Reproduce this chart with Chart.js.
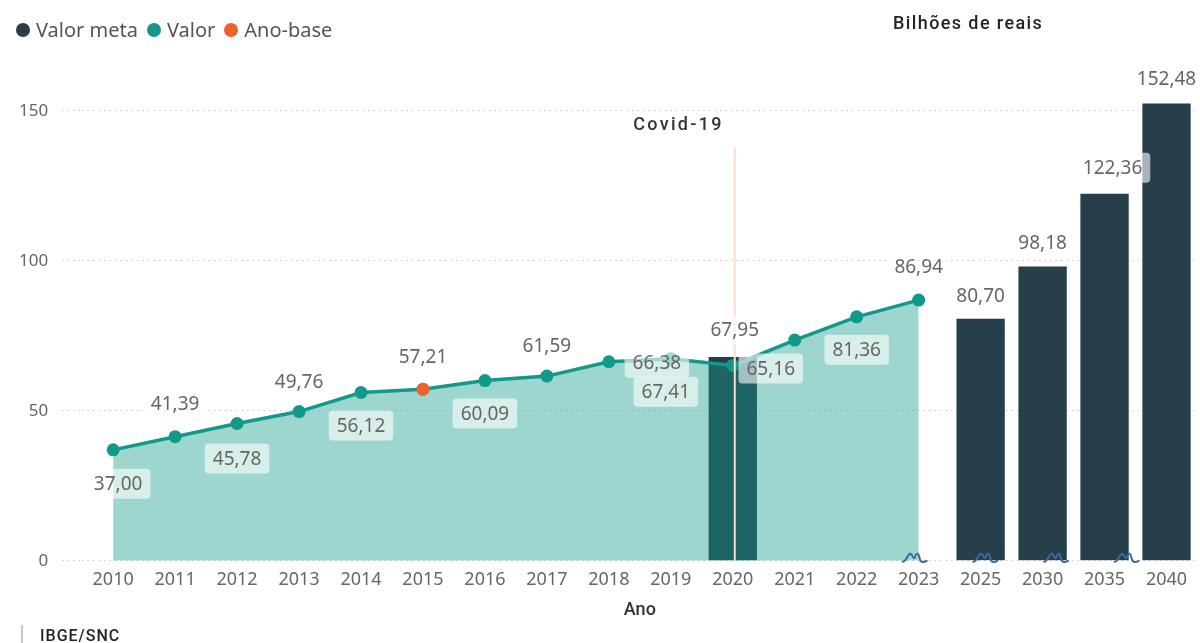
<!DOCTYPE html>
<html lang="pt-BR">
<head>
<meta charset="utf-8">
<title>Valor meta e valor - bilhões de reais</title>
<script src="https://cdn.jsdelivr.net/npm/chart.js@4.4.1/dist/chart.umd.min.js"></script>
<style>
  html, body { margin: 0; padding: 0; background: #fff; }
  #wrap { position: relative; width: 1200px; height: 643px; overflow: hidden; font-family: "Noto Sans", sans-serif; }
  #chart { position: absolute; left: 0; top: 0; }
  .legend { position: absolute; left: 16px; top: 16px; display: flex; align-items: center; font-size: 20px; color: #555; }
  .legend .item { display: flex; align-items: center; margin-right: 9px; }
  .legend .dot { width: 14px; height: 14px; border-radius: 50%; display: inline-block; margin-right: 6px; }
  .unit { position: absolute; left: 893px; top: 12px; font: 500 18px Roboto, sans-serif; letter-spacing: 1.4px; color: #252423; }
  .source { position: absolute; left: 21px; top: 625px; font: 500 16px Roboto, sans-serif; letter-spacing: 1px; color: #252423; padding-left: 17px; border-left: 2px solid #c8c6c4; line-height: 22px; }
</style>
</head>
<body>
<div id="wrap">
  <!-- a few px wider than the page: the x axis keeps a small right gutter we don't want -->
  <canvas id="chart" width="1204" height="643"></canvas>
  <div class="legend">
    <div class="item"><span class="dot" style="background:#263f4b"></span>Valor meta</div>
    <div class="item"><span class="dot" style="background:#12998a"></span>Valor</div>
    <div class="item"><span class="dot" style="background:#f0622b"></span>Ano-base</div>
  </div>
  <div class="unit">Bilhões de reais</div>
  <div class="source">IBGE/SNC</div>
</div>
<script>
const categories = ['2010', '2011', '2012', '2013', '2014', '2015', '2016', '2017', '2018',
  '2019', '2020', '2021', '2022', '2023', '2025', '2030', '2035', '2040'];
const valorMeta = [null, null, null, null, null, null, null, null, null,
  null, 67.95, null, null, null, 80.70, 98.18, 122.36, 152.48];
const valor = [37.00, 41.39, 45.78, 49.76, 56.12, 57.21, 60.09, 61.59, 66.38,
  67.41, 65.16, 73.6, 81.36, 86.94, null, null, null, null];
const anoBase = [null, null, null, null, null, 57.21, null, null, null,
  null, null, null, null, null, null, null, null, null];
const yTicks = [0, 50, 100, 150];
const covidYear = '2020';

// where each data label sits relative to its point (dx, dy); null = hidden
const valorLabelOffset = [[5, 34], [0, -33], [0, 35], [0, -30], [0, 33], [0, -33], [0, 33], [0, -31], [48, 1],
  [-5, 33], [38, 3], null, [0, 33], [0, -33], null, null, null, null];
const metaLabelOffset = [null, null, null, null, null, null, null, null, null,
  null, [2, -27], null, null, null, [0, -23], [0, -24], [8, -26], [0, -25]];

const TEAL = '#12998a';
const DARK = '#263f4b';
const ORANGE = '#f0622b';

function fmt(v) {
  return v.toFixed(2).replace('.', ',');
}

function drawLabel(ctx, text, x, y) {
  ctx.font = '19px "Noto Sans"';
  const w = ctx.measureText(text).width + 16;
  const h = 30;
  ctx.fillStyle = 'rgba(255,255,255,0.6)';
  ctx.beginPath();
  ctx.roundRect(x - w / 2, y - h / 2, w, h, 4);
  ctx.fill();
  ctx.fillStyle = '#666';
  ctx.textAlign = 'center';
  ctx.textBaseline = 'middle';
  ctx.fillText(text, x, y + 1);
}

function drawSquiggle(ctx, x, y) {
  ctx.save();
  ctx.strokeStyle = '#3d6a9e';
  ctx.lineWidth = 2;
  ctx.lineJoin = 'round';
  ctx.lineCap = 'round';
  ctx.beginPath();
  ctx.moveTo(x - 12, y);
  ctx.bezierCurveTo(x - 8, y, x - 7, y - 9, x - 4, y - 8);
  ctx.bezierCurveTo(x - 2, y - 7, x - 2, y - 3, x, y - 4);
  ctx.bezierCurveTo(x + 2, y - 10, x + 4, y - 9, x + 5, y - 3);
  ctx.bezierCurveTo(x + 6, y + 1, x + 9, y + 1, x + 12, y - 1);
  ctx.stroke();
  ctx.restore();
}

const overlayPlugin = {
  id: 'overlay',
  afterDatasetsDraw(chart) {
    const ctx = chart.ctx;
    const xs = chart.scales.x;
    const ys = chart.scales.y;
    const area = chart.chartArea;

    // covid marker
    const cx = xs.getPixelForValue(categories.indexOf(covidYear)) + 2;
    const top = ys.getPixelForValue(138);
    ctx.save();
    ctx.strokeStyle = '#fbdfca';
    ctx.lineWidth = 2;
    ctx.beginPath();
    ctx.moveTo(cx, top);
    ctx.lineTo(cx, area.bottom);
    ctx.stroke();
    ctx.font = '500 18px Roboto';
    ctx.letterSpacing = '2.3px';
    ctx.fillStyle = '#333';
    ctx.textAlign = 'right';
    ctx.textBaseline = 'middle';
    ctx.fillText('Covid-19', cx - 11, top - 21);
    ctx.restore();

    // wavy marks on the baseline
    [13, 14, 15, 16].forEach((i, k) => {
      drawSquiggle(ctx, xs.getPixelForValue(i) - 4 + 8.7 * k, area.bottom + 1);
    });

    // data labels
    ctx.save();
    valor.forEach((v, i) => {
      const off = valorLabelOffset[i];
      if (v === null || !off) return;
      drawLabel(ctx, fmt(v), xs.getPixelForValue(i) + off[0], ys.getPixelForValue(v) + off[1]);
    });
    valorMeta.forEach((v, i) => {
      const off = metaLabelOffset[i];
      if (v === null || !off) return;
      drawLabel(ctx, fmt(v), xs.getPixelForValue(i) + off[0], ys.getPixelForValue(v) + off[1]);
    });
    ctx.restore();
  }
};

window.addEventListener('DOMContentLoaded', () => {
  const ctx = document.getElementById('chart').getContext('2d');
  new Chart(ctx, {
    data: {
      labels: categories,
      datasets: [
        {
          type: 'line',
          label: 'Ano-base',
          data: anoBase,
          showLine: false,
          pointRadius: 6.5,
          pointBorderWidth: 0,
          pointBackgroundColor: ORANGE,
          order: 0
        },
        {
          type: 'line',
          label: 'Valor',
          data: valor,
          borderColor: TEAL,
          borderWidth: 3.5,
          backgroundColor: 'rgba(18,153,138,0.41)',
          fill: 'origin',
          tension: 0,
          pointRadius: 6.5,
          pointBorderWidth: 0,
          pointBackgroundColor: TEAL,
          spanGaps: false,
          order: 1
        },
        {
          type: 'bar',
          label: 'Valor meta',
          data: valorMeta,
          backgroundColor: DARK,
          categoryPercentage: 1,
          barPercentage: 0.78,
          order: 2
        }
      ]
    },
    options: {
      responsive: false,
      animation: false,
      layout: { padding: { left: 5, right: 0, top: 81, bottom: 22 } },
      plugins: {
        legend: { display: false },
        tooltip: { enabled: false }
      },
      scales: {
        x: {
          offset: true,
          grid: { display: false },
          border: { display: false },
          ticks: {
            color: '#666',
            font: { family: 'Noto Sans', size: 18 },
            padding: 0,
            maxRotation: 0,
            autoSkip: false
          },
          title: {
            display: true,
            text: 'Ano',
            color: '#333',
            font: { family: 'Roboto', size: 18, weight: '500' },
            padding: { top: 9, bottom: 0 }
          }
        },
        y: {
          min: 0,
          max: 160,
          afterBuildTicks: (scale) => {
            scale.ticks = yTicks.map(v => ({ value: v }));
          },
          border: { display: false, dash: [1.5, 4] },
          grid: {
            color: '#c8c8c8',
            lineWidth: 1,
            drawTicks: true,
            tickLength: 20,
            tickColor: '#c8c8c8',
            tickBorderDash: [1.5, 4]
          },
          ticks: {
            color: '#666',
            font: { family: 'Noto Sans', size: 17 },
            padding: 14
          }
        }
      }
    },
    plugins: [overlayPlugin]
  });
});
</script>
</body>
</html>
